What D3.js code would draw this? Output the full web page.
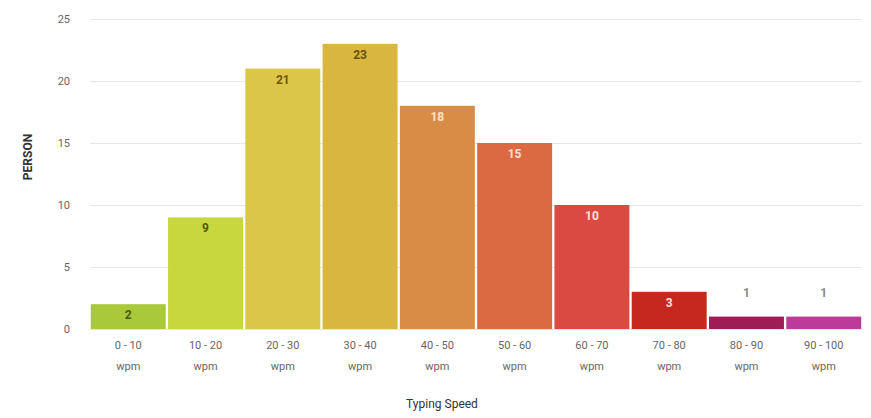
<!DOCTYPE html>
<html>
<head>
<meta charset="utf-8">
<script src="https://cdn.jsdelivr.net/npm/d3@7"></script>
<style>
  body { margin: 0; background: #fff; }
  text { font-family: Roboto, "Open Sans", sans-serif; }
</style>
</head>
<body>
<div id="chart"></div>
<script>
// Data
const ranges = ['0 - 10', '10 - 20', '20 - 30', '30 - 40', '40 - 50', '50 - 60', '60 - 70', '70 - 80', '80 - 90', '90 - 100']
const persons = [2, 9, 21, 23, 18, 15, 10, 3, 1, 1]
const barColors = ['#a9c83a', '#c6d83e', '#dcc64a', '#d9b63f', '#d98c46', '#db6a42', '#da4a42', '#c6281d', '#9e1d56', '#bb3a9a']
const labelColors = ['#4a5a10', '#4a5a10', '#6a5a10', '#6a5010', '#fde2c8', '#fde0d0', '#fde0d8', '#fde0d8', '#888', '#888']
const yTicks = [0, 5, 10, 15, 20, 25]

// Layout
const width = 871
const height = 418
const margin = { top: 19, right: 9, bottom: 90, left: 90 }

const svg = d3.select('#chart')
  .append('svg')
    .attr('width', width)
    .attr('height', height)

const x = d3.scaleBand()
  .domain(ranges)
  .range([margin.left, width - margin.right])
  .paddingInner(0.03)
  .paddingOuter(0.01)

const y = d3.scaleLinear()
  .domain([0, 25])
  .range([height - margin.bottom + 1, margin.top])

// Gridlines + y labels
const yAxis = svg.append('g')
  .attr('transform', 'translate(' + margin.left + ',0)')
  .call(d3.axisLeft(y).tickValues(yTicks).tickSize(-(width - margin.left - margin.right)).tickPadding(20))
yAxis.select('.domain').remove()
yAxis.selectAll('.tick line').attr('stroke', '#e6e6e6')
yAxis.selectAll('.tick text').attr('fill', '#666').attr('font-size', 11)

// Bars
svg.selectAll('.bar')
  .data(persons)
  .enter()
  .append('rect')
    .attr('class', 'bar')
    .attr('x', (d, i) => x(ranges[i]))
    .attr('y', d => y(d))
    .attr('width', x.bandwidth())
    .attr('height', d => y(0) - y(d))
    .attr('fill', (d, i) => barColors[i])

// Value labels
svg.selectAll('.val')
  .data(persons)
  .enter()
  .append('text')
    .attr('class', 'val')
    .attr('x', (d, i) => x(ranges[i]) + x.bandwidth() / 2)
    .attr('y', d => d > 2 ? y(d) + 15 : (d > 1 ? y(d) + 15 : y(d) - 20))
    .attr('text-anchor', 'middle')
    .attr('font-size', 12)
    .attr('font-weight', 'bold')
    .attr('fill', (d, i) => labelColors[i])
    .text(d => d)

// X tick labels (two lines)
const xt = svg.selectAll('.xt')
  .data(ranges)
  .enter()
  .append('text')
    .attr('class', 'xt')
    .attr('x', d => x(d) + x.bandwidth() / 2)
    .attr('y', 349)
    .attr('text-anchor', 'middle')
    .attr('font-size', 11)
    .attr('fill', '#666')
xt.append('tspan').text(d => d)
xt.append('tspan')
  .attr('x', d => x(d) + x.bandwidth() / 2)
  .attr('dy', 21)
  .text('wpm')

// Axis titles
svg.append('text')
  .attr('x', 442)
  .attr('y', 408)
  .attr('text-anchor', 'middle')
  .attr('font-size', 12)
  .attr('fill', '#333')
  .text('Typing Speed')

svg.append('text')
  .attr('transform', 'translate(32,157) rotate(-90)')
  .attr('text-anchor', 'middle')
  .attr('font-size', 12)
  .attr('font-weight', 'bold')
  .attr('fill', '#333')
  .text('PERSON')
</script>
</body>
</html>
